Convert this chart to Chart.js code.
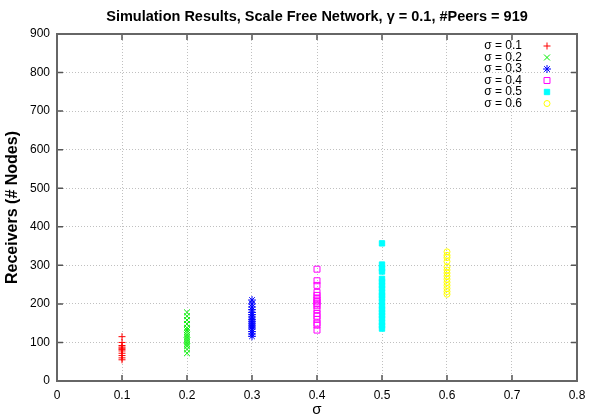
<!DOCTYPE html>
<html>
<head>
<meta charset="utf-8">
<script src="https://cdn.jsdelivr.net/npm/chart.js@4.4.1/dist/chart.umd.min.js"></script>
<style>
    html, body { margin: 0; padding: 0; background: #fff; }
    #wrap { width: 598px; height: 419px; position: relative; }
</style>
</head>
<body>
<div id="wrap"><canvas id="chart" width="598" height="419"></canvas></div>
<script>
// Chart data
const sigmaLevels = [0.1, 0.2, 0.3, 0.4, 0.5, 0.6];
const seriesLabels = ['σ = 0.1', 'σ = 0.2', 'σ = 0.3', 'σ = 0.4', 'σ = 0.5', 'σ = 0.6'];

const receivers01 = [115, 100, 92, 88, 85, 82, 78, 72, 66, 60, 55];
const receivers02 = [178, 168, 158, 148, 138, 132, 126, 120, 115, 110, 105, 100, 95, 90, 82, 72];
const receivers03 = [210, 200, 192, 185, 178, 172, 166, 160, 155, 150, 145, 140, 135, 128, 122, 116];
const receivers04 = [290, 260, 248, 230, 222, 215, 210, 205, 200, 195, 185, 175, 168, 160, 150, 145, 132];
const receivers05 = [357, 302, 292, 284, 265, 257, 248, 240, 230, 222, 215, 205, 195, 186, 178, 170, 162, 152, 144, 136];
const receivers06 = [335, 326, 320, 310, 296, 288, 280, 272, 264, 256, 248, 240, 232, 225];

const xTicks = [0, 0.1, 0.2, 0.3, 0.4, 0.5, 0.6, 0.7, 0.8];
const yTicks = [0, 100, 200, 300, 400, 500, 600, 700, 800, 900];

const allReceivers = [receivers01, receivers02, receivers03, receivers04, receivers05, receivers06];
const seriesColors = ['#ff0000', '#00ee00', '#0000ff', '#ff00ff', '#00ffff', '#ffff00'];
const seriesStyles = [
    { pointStyle: 'cross', radius: 3.5, fill: false },
    { pointStyle: 'crossRot', radius: 4.2, fill: false },
    { pointStyle: 'star', radius: 4, fill: false },
    { pointStyle: 'rect', radius: 4.2, fill: false },
    { pointStyle: 'rect', radius: 3.8, fill: true },
    { pointStyle: 'circle', radius: 3, fill: false }
];

const FONT = '"Liberation Sans", Arial, Helvetica, sans-serif';

const datasets = sigmaLevels.map((sigma, i) => {
    const st = seriesStyles[i];
    return {
        label: seriesLabels[i],
        data: allReceivers[i].map(v => ({ x: sigma, y: v })),
        pointStyle: st.pointStyle,
        pointRadius: st.radius,
        pointHoverRadius: st.radius,
        borderColor: seriesColors[i],
        backgroundColor: st.fill ? seriesColors[i] : 'rgba(0,0,0,0)',
        pointBorderWidth: 1,
        showLine: false
    };
});

// Frame, inward ticks, legend and axis titles in the gnuplot manner
const gnuplotDecor = {
    id: 'gnuplotDecor',
    afterDatasetsDraw(chart) {
        const ctx = chart.ctx;
        const a = chart.chartArea;
        const xs = chart.scales.x;
        const ys = chart.scales.y;
        ctx.save();

        // inward tick marks on all four sides
        ctx.strokeStyle = '#555';
        ctx.lineWidth = 1.5;
        ctx.beginPath();
        xTicks.forEach(t => {
            const px = xs.getPixelForValue(t);
            ctx.moveTo(px, a.bottom); ctx.lineTo(px, a.bottom - 6);
            ctx.moveTo(px, a.top); ctx.lineTo(px, a.top + 6);
        });
        yTicks.forEach(t => {
            const py = ys.getPixelForValue(t);
            ctx.moveTo(a.left, py); ctx.lineTo(a.left + 6, py);
            ctx.moveTo(a.right, py); ctx.lineTo(a.right - 6, py);
        });
        ctx.stroke();

        // border
        ctx.strokeStyle = '#666';
        ctx.lineWidth = 2;
        ctx.strokeRect(a.left, a.top, a.right - a.left, a.bottom - a.top);

        // legend, text right-aligned with symbol after it
        ctx.font = '12px ' + FONT;
        ctx.textAlign = 'right';
        ctx.textBaseline = 'middle';
        chart.data.datasets.forEach((ds, i) => {
            const y = 46 + i * 11.5;
            ctx.fillStyle = '#000';
            ctx.fillText(ds.label, 522, y);
            ctx.strokeStyle = ds.borderColor;
            ctx.fillStyle = ds.backgroundColor;
            ctx.lineWidth = 1;
            Chart.helpers.drawPoint(ctx, {
                pointStyle: ds.pointStyle,
                radius: ds.pointRadius,
                borderWidth: 1
            }, 547, y);
        });

        // title
        ctx.fillStyle = '#000';
        ctx.textAlign = 'center';
        ctx.font = 'bold 14.5px ' + FONT;
        ctx.fillText('Simulation Results, Scale Free Network, γ = 0.1, #Peers = 919', (a.left + a.right) / 2, 17);

        // x axis title
        ctx.font = '15px ' + FONT;
        ctx.fillText('σ', (a.left + a.right) / 2, 410);

        // y axis title
        ctx.save();
        ctx.translate(13, (a.top + a.bottom) / 2);
        ctx.rotate(-Math.PI / 2);
        ctx.font = 'bold 16px ' + FONT;
        ctx.fillText('Receivers (# Nodes)', 0, 0);
        ctx.restore();

        ctx.restore();
    }
};

new Chart(document.getElementById('chart').getContext('2d'), {
    type: 'scatter',
    data: { datasets: datasets },
    options: {
        responsive: false,
        animation: false,
        layout: { padding: { top: 34, right: 21, left: 0, bottom: 0 } },
        plugins: {
            legend: { display: false },
            title: { display: false },
            tooltip: { enabled: false }
        },
        scales: {
            x: {
                type: 'linear',
                min: 0,
                max: 0.8,
                afterBuildTicks(scale) {
                    scale.ticks = xTicks.map(v => ({ value: v }));
                },
                afterFit(scale) { scale.height = 38; },
                border: { display: false, dash: [1, 2] },
                grid: {
                    color: '#c0c0c0',
                    lineWidth: 1,
                    drawTicks: false
                },
                ticks: {
                    padding: 7,
                    color: '#000',
                    font: { family: FONT, size: 12 },
                    callback: v => String(Math.round(v * 10) / 10)
                }
            },
            y: {
                type: 'linear',
                min: 0,
                max: 900,
                afterBuildTicks(scale) {
                    scale.ticks = yTicks.map(v => ({ value: v }));
                },
                afterFit(scale) { scale.width = 57; },
                border: { display: false, dash: [1, 2] },
                grid: {
                    color: '#c0c0c0',
                    lineWidth: 1,
                    drawTicks: false
                },
                ticks: {
                    padding: 7,
                    color: '#000',
                    font: { family: FONT, size: 12 },
                    callback: v => String(v)
                }
            }
        }
    },
    plugins: [gnuplotDecor]
});
</script>
</body>
</html>
